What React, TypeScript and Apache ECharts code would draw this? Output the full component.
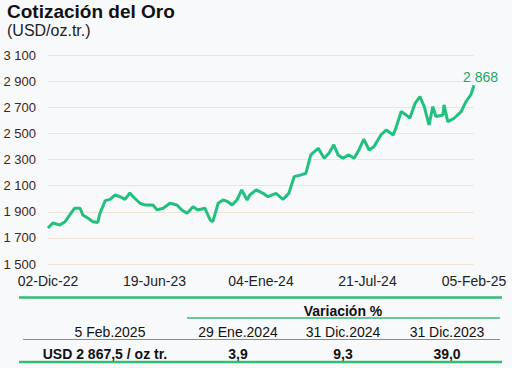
import React, { useEffect, useRef } from "react";
import * as echarts from "echarts";

const startDate = "2022-12-02";
const tickLabels = ["02-Dic-22", "19-Jun-23", "04-Ene-24", "21-Jul-24", "05-Feb-25"];
const tickStepDays = 199;

const dates = [
  "2022-12-02", "2022-12-11", "2022-12-24", "2023-01-03", "2023-01-16", "2023-01-21", "2023-01-31",
  "2023-02-05", "2023-02-15", "2023-02-24", "2023-03-05", "2023-03-09", "2023-03-19", "2023-03-28",
  "2023-04-06", "2023-04-16", "2023-04-25", "2023-05-04", "2023-05-10", "2023-05-23", "2023-06-01",
  "2023-06-16", "2023-06-24", "2023-07-05", "2023-07-18", "2023-07-31", "2023-08-09", "2023-08-19",
  "2023-08-30", "2023-09-08", "2023-09-21", "2023-10-01", "2023-10-06", "2023-10-16", "2023-10-25",
  "2023-11-03", "2023-11-11", "2023-11-20", "2023-11-29", "2023-12-09", "2023-12-14", "2023-12-26",
  "2024-01-08", "2024-01-17", "2024-02-01", "2024-02-14", "2024-02-25", "2024-03-06", "2024-03-19",
  "2024-03-28", "2024-04-06", "2024-04-20", "2024-05-01", "2024-05-10", "2024-05-19", "2024-05-27",
  "2024-06-05", "2024-06-16", "2024-06-26", "2024-07-05", "2024-07-14", "2024-07-24", "2024-08-02",
  "2024-08-15", "2024-08-25", "2024-09-07", "2024-09-12", "2024-09-22", "2024-10-01", "2024-10-08",
  "2024-10-18", "2024-10-27", "2024-11-04", "2024-11-13", "2024-11-20", "2024-11-26", "2024-12-09",
  "2024-12-11", "2024-12-18", "2024-12-30", "2025-01-12", "2025-01-21", "2025-01-30", "2025-02-05",
];

const prices = [
  1775, 1814, 1799, 1824, 1901, 1927, 1927,
  1875, 1850, 1824, 1818, 1888, 1985, 1995,
  2028, 2015, 1995, 2044, 2015, 1965, 1952,
  1952, 1914, 1927, 1965, 1952, 1914, 1888,
  1939, 1914, 1927, 1837, 1824, 1965, 1990,
  1977, 1952, 1990, 2067, 1990, 2028, 2067,
  2041, 2015, 2041, 1995, 2041, 2169, 2182,
  2195, 2335, 2386, 2310, 2348, 2412, 2335,
  2310, 2335, 2310, 2373, 2455, 2373, 2398,
  2488, 2526, 2488, 2540, 2667, 2641, 2616,
  2731, 2782, 2705, 2565, 2705, 2629, 2641,
  2718, 2590, 2616, 2667, 2743, 2794, 2868,
];

const yMin = 1500;
const yMax = 3100;
const yStep = 200;
const lastLabel = "2 868";

const tableDate = "5 Feb.2025";
const tableHeader = "Variación %";
const tableRefDates = ["29 Ene.2024", "31 Dic.2024", "31 Dic.2023"];
const tablePrice = "USD 2 867,5 / oz tr.";
const tableVariations = ["3,9", "9,3", "39,0"];

const GREEN = "#22c07f";
const TABLE_GREEN = "#35bb74";

function dayOffset(d: string): number {
  const a = Date.UTC(+startDate.slice(0, 4), +startDate.slice(5, 7) - 1, +startDate.slice(8, 10));
  const b = Date.UTC(+d.slice(0, 4), +d.slice(5, 7) - 1, +d.slice(8, 10));
  return Math.round((b - a) / 86400000);
}

function fmtThousands(v: number): string {
  const s = String(Math.round(v));
  return s.replace(/\B(?=(\d{3})+(?!\d))/g, " ");
}

export default function App() {
  const ref = useRef<HTMLDivElement>(null);
  useEffect(() => {
    if (!ref.current) return;
    const chart = echarts.init(ref.current, undefined, { renderer: "svg" });
    const data = dates.map((d, i) => [dayOffset(d), prices[i]]);
    const colCenters = [238, 343, 447];
    const txt = (text: string, x: number, y: number, size: number, bold = false, color = "#111") => ({
      type: "text",
      style: {
        text,
        x,
        y,
        textAlign: "center",
        verticalAlign: "middle",
        fill: color,
        font: `${bold ? "bold " : ""}${size}px "Liberation Sans", Arial, sans-serif`,
      },
    });
    const ln = (x1: number, y1: number, x2: number, y2: number, w: number, c = TABLE_GREEN) => ({
      type: "line",
      shape: { x1, y1, x2, y2 },
      style: { stroke: c, lineWidth: w },
    });
    const totalDays = tickStepDays * (tickLabels.length - 1);
    chart.setOption({
      animation: false,
      backgroundColor: "#f8f9fb",
      grid: { left: 48, right: 38, top: 55, bottom: 104, containLabel: false },
      xAxis: {
        type: "value",
        min: 0,
        max: totalDays,
        interval: tickStepDays,
        axisLine: { show: false },
        axisTick: { show: false },
        splitLine: { show: false },
        axisLabel: {
          margin: 10,
          fontSize: 14,
          color: "#222",
          fontFamily: "Liberation Sans, Arial, sans-serif",
          showMinLabel: true,
          showMaxLabel: true,
          formatter: (v: number) => tickLabels[Math.round(v / tickStepDays)] ?? "",
        },
      },
      yAxis: {
        type: "value",
        min: yMin,
        max: yMax,
        interval: yStep,
        axisLine: { show: false },
        axisTick: { show: false },
        splitLine: { lineStyle: { color: "#eee4d3", width: 1 } },
        axisLabel: {
          margin: 12,
          fontSize: 13,
          color: "#3d2614",
          fontFamily: "Liberation Sans, Arial, sans-serif",
          formatter: (v: number) => fmtThousands(v),
        },
      },
      series: [
        {
          type: "line",
          data,
          showSymbol: false,
          symbol: "none",
          lineStyle: { color: GREEN, width: 3 },
          itemStyle: { color: GREEN },
          endLabel: {
            show: true,
            formatter: () => lastLabel,
            distance: 0,
            offset: [-11, -8],
            color: "#1aa862",
            fontSize: 14,
            fontFamily: "Liberation Sans, Arial, sans-serif",
          },
        },
      ],
      graphic: [
        {
          type: "text",
          style: {
            text: "Cotización del Oro",
            x: 7,
            y: 2,
            verticalAlign: "top",
            fill: "#111",
            font: 'bold 19px "Liberation Sans", Arial, sans-serif',
          },
        },
        {
          type: "text",
          style: {
            text: "(USD/oz.tr.)",
            x: 7,
            y: 30,
            verticalAlign: "middle",
            fill: "#222",
            font: '16px "Liberation Sans", Arial, sans-serif',
          },
        },
        ln(19, 297.5, 502, 297.5, 2.5),
        txt(tableHeader, 343, 311, 14, true),
        ln(187, 318, 500, 318, 1.5),
        txt(tableDate, 110, 332, 14),
        ...tableRefDates.map((t, i) => txt(t, colCenters[i], 332, 14)),
        ln(23, 339.5, 500, 339.5, 1.2),
        txt(tablePrice, 105, 354, 14, true),
        ...tableVariations.map((t, i) => txt(t, colCenters[i], 354, 14, true)),
        ln(19, 362, 502, 362, 2.5),
      ],
    });
    return () => chart.dispose();
  }, []);
  return (
    <div
      ref={ref}
      style={{ position: "absolute", left: 0, top: 0, width: 512, height: 368 }}
    />
  );
}
